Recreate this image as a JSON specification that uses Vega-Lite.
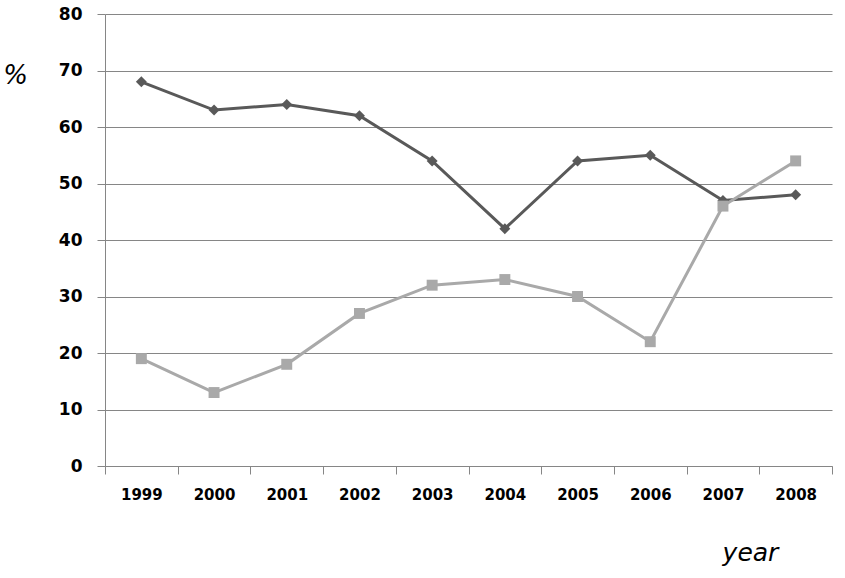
{
  "$schema": "https://vega.github.io/schema/vega-lite/v6.json",
  "width": 727,
  "height": 452,
  "autosize": {"type": "none"},
  "padding": {"left": 105, "top": 14, "right": 13, "bottom": 112},
  "background": "white",
  "config": {"view": {"stroke": null}},
  "data": {
    "values": [
      {"year": "1999", "series": "A", "value": 68},
      {"year": "2000", "series": "A", "value": 63},
      {"year": "2001", "series": "A", "value": 64},
      {"year": "2002", "series": "A", "value": 62},
      {"year": "2003", "series": "A", "value": 54},
      {"year": "2004", "series": "A", "value": 42},
      {"year": "2005", "series": "A", "value": 54},
      {"year": "2006", "series": "A", "value": 55},
      {"year": "2007", "series": "A", "value": 47},
      {"year": "2008", "series": "A", "value": 48},
      {"year": "1999", "series": "B", "value": 19},
      {"year": "2000", "series": "B", "value": 13},
      {"year": "2001", "series": "B", "value": 18},
      {"year": "2002", "series": "B", "value": 27},
      {"year": "2003", "series": "B", "value": 32},
      {"year": "2004", "series": "B", "value": 33},
      {"year": "2005", "series": "B", "value": 30},
      {"year": "2006", "series": "B", "value": 22},
      {"year": "2007", "series": "B", "value": 46},
      {"year": "2008", "series": "B", "value": 54}
    ]
  },
  "mark": {"type": "line", "strokeWidth": 3, "point": {"filled": true, "size": 120, "opacity": 1}},
  "encoding": {
    "x": {
      "field": "year",
      "type": "ordinal",
      "scale": {"type": "band", "paddingInner": 0, "paddingOuter": 0},
      "axis": {
        "title": "year",
        "titleFont": "DejaVu Sans",
        "titleFontStyle": "italic",
        "titleFontWeight": "normal",
        "titleFontSize": 25,
        "titleColor": "black",
        "titleX": 645,
        "titleY": 86,
        "titleBaseline": "middle",
        "titleAnchor": "middle",
        "labelAngle": 0,
        "labelFont": "DejaVu Sans",
        "labelFontWeight": "bold",
        "labelFontSize": 15,
        "labelColor": "black",
        "labelPadding": 13,
        "tickBand": "extent",
        "tickSize": 8,
        "tickColor": "#868686",
        "domainColor": "#868686",
        "grid": false
      }
    },
    "y": {
      "field": "value",
      "type": "quantitative",
      "scale": {"domain": [0, 80]},
      "axis": {
        "title": "%",
        "titleAngle": 0,
        "titleFont": "DejaVu Sans",
        "titleFontStyle": "italic",
        "titleFontWeight": "normal",
        "titleFontSize": 26,
        "titleColor": "black",
        "titleX": -90,
        "titleY": 61,
        "titleBaseline": "middle",
        "titleAlign": "center",
        "values": [0, 10, 20, 30, 40, 50, 60, 70, 80],
        "labelFont": "DejaVu Sans",
        "labelFontWeight": "bold",
        "labelFontSize": 17,
        "labelColor": "black",
        "labelPadding": 15,
        "tickSize": 8,
        "tickColor": "#868686",
        "domainColor": "#868686",
        "grid": true,
        "gridColor": "#868686",
        "gridOpacity": 1
      }
    },
    "color": {
      "field": "series",
      "type": "nominal",
      "scale": {"domain": ["A", "B"], "range": ["#595959", "#a9a9a9"]},
      "legend": null
    },
    "shape": {
      "field": "series",
      "type": "nominal",
      "scale": {"domain": ["A", "B"], "range": ["diamond", "square"]},
      "legend": null
    }
  }
}
